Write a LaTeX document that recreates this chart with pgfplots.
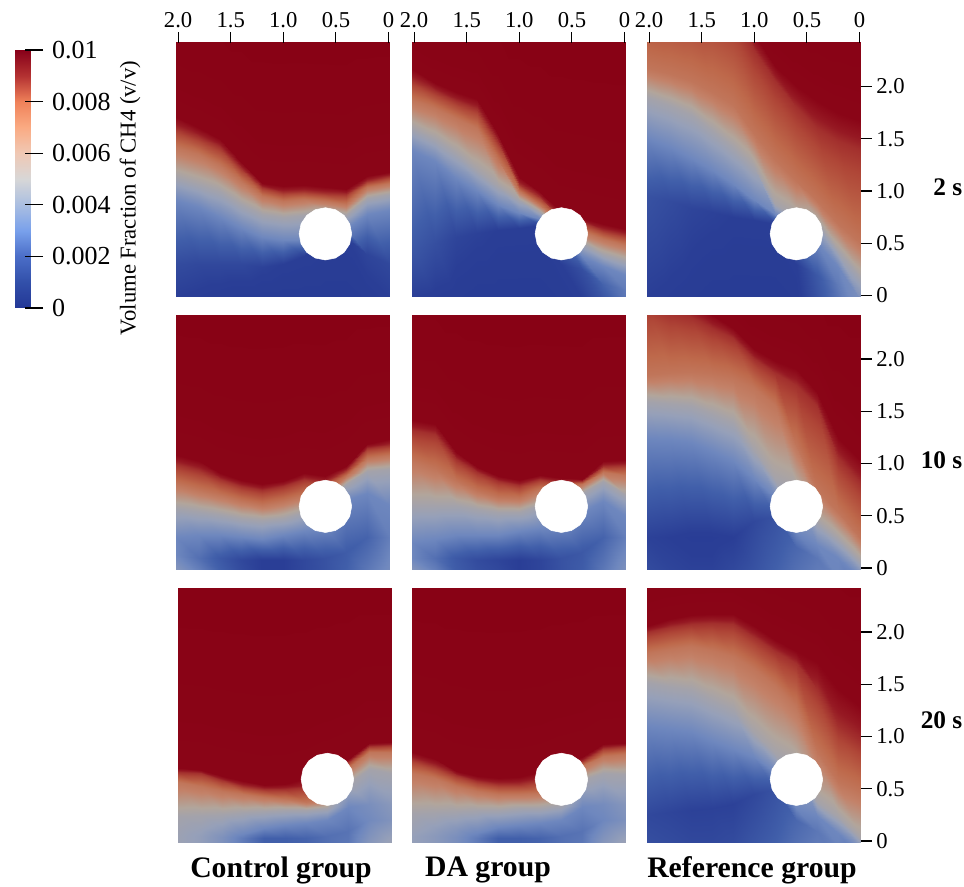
\documentclass[border=0pt]{standalone}
\usepackage{pgfplots}
\usepackage{pgfplotstable}
\usepackage{fontspec}
\setmainfont{Liberation Serif}
\pgfplotsset{compat=1.18}
\pgfplotstableread{
x y
0.85 0.59
0.831 0.686
0.777 0.767
0.696 0.821
0.6 0.84
0.504 0.821
0.423 0.767
0.369 0.686
0.35 0.59
0.369 0.494
0.423 0.413
0.504 0.359
0.6 0.34
0.696 0.359
0.777 0.413
0.831 0.494
}\hole
\pgfplotsset{panel/.style={
  scale only axis, width=160.5pt, height=190.5pt,
  x dir=reverse, xmin=-0.014, xmax=2.02, ymin=-0.014, ymax=2.416,
  axis line style={draw=none}, tick align=outside, major tick length=8pt,
  tick style={black,line width=0.8pt},
  xtick=\empty, ytick=\empty,
  tick label style={font=\fontsize{17}{17}\selectfont},
  point meta min=0, point meta max=10,
  colormap={pan}{rgb255=(35,55,145) rgb255=(42,62,150) rgb255=(65,95,170) rgb255=(110,135,190) rgb255=(150,160,185) rgb255=(178,165,155) rgb255=(195,130,105) rgb255=(190,105,75) rgb255=(175,70,55) rgb255=(150,25,35) rgb255=(135,0,20)},
  clip=true, axis on top=true},
 topt/.style={xtick={0,0.5,1,1.5,2}, xticklabels={0,0.5,1.0,1.5,2.0}, xtick pos=top, xticklabel pos=upper},
 rightt/.style={ytick={0,0.5,1,1.5,2}, yticklabels={0,0.5,1.0,1.5,2.0}, ytick pos=right, yticklabel pos=right}
}
\newcommand\panel[4]{%
\begin{axis}[panel,at={({#1*0.75pt},{#2*0.75pt})},anchor=south west,#3]
\addplot[surf,shader=interp,mesh/cols=8,point meta=explicit] coordinates {#4};
\addplot[fill=white,draw=white,no marks,forget plot] table {\hole} -- cycle;
\end{axis}}
\begin{document}
\begin{tikzpicture}[x=0.75pt,y=0.75pt]
\path[use as bounding box] (0,0) rectangle (964,887);
% colour bar
\begin{axis}[scale only axis,at={({15*0.75pt},{579*0.75pt})},anchor=south west,width=11.25pt,height=193.5pt,
  xmin=0,xmax=1,ymin=0,ymax=10,xtick=\empty,axis line style={draw=none},
  ytick={0,2,4,6,8,10},yticklabels={0,0.002,0.004,0.006,0.008,0.01},ytick pos=right,yticklabel pos=right,
  tick align=outside,major tick length=13.5pt,tick style={black,line width=0.8pt,xshift=-3.75pt},
  yticklabel style={font=\fontsize{19.5}{19.5}\selectfont,xshift=-0.5pt},
  point meta min=0,point meta max=10,axis on top=true,
  colormap={cb}{rgb255=(35,55,150) rgb255=(50,80,170) rgb255=(75,110,200) rgb255=(120,160,235) rgb255=(170,190,225) rgb255=(215,215,215) rgb255=(240,200,180) rgb255=(250,170,130) rgb255=(240,130,90) rgb255=(180,50,50) rgb255=(135,0,25)}]
\addplot[surf,shader=interp,mesh/cols=2,point meta=explicit] coordinates {(0,0)[0] (1,0)[0] (0,1)[1] (1,1)[1] (0,2)[2] (1,2)[2] (0,3)[3] (1,3)[3] (0,4)[4] (1,4)[4] (0,5)[5] (1,5)[5] (0,6)[6] (1,6)[6] (0,7)[7] (1,7)[7] (0,8)[8] (1,8)[8] (0,9)[9] (1,9)[9] (0,10)[10] (1,10)[10]};
\end{axis}
% P1 control 2 s
\panel{176}{590}{topt}{
(2.02,-0.02)[1.0] (2.02,0.3)[1.4] (2.02,0.91)[3] (2.02,1.13)[4.5] (2.02,1.42)[6.5] (2.02,1.6)[8.5] (2.02,1.71)[9.8] (2.02,3.4)[10]
(1.8,-0.02)[0.9] (1.8,0.3)[1.3] (1.8,0.85)[3] (1.8,1.07)[4.5] (1.8,1.35)[6.5] (1.8,1.52)[8.5] (1.8,1.6)[9.8] (1.8,3.4)[10]
(1.6,-0.02)[0.8] (1.6,0.3)[1.3] (1.6,0.75)[3] (1.6,1.0)[4.5] (1.6,1.25)[6.5] (1.6,1.42)[8.5] (1.6,1.5)[9.8] (1.6,3.4)[10]
(1.4,-0.02)[0.7] (1.4,0.3)[1.3] (1.4,0.65)[3] (1.4,0.88)[4.5] (1.4,1.1)[6.5] (1.4,1.22)[8.5] (1.4,1.28)[9.8] (1.4,3.4)[10]
(1.2,-0.02)[0.7] (1.2,0.27)[1.1] (1.2,0.56)[3] (1.2,0.78)[4.5] (1.2,0.95)[6.5] (1.2,1.04)[8.5] (1.2,1.08)[9.8] (1.2,3.4)[10]
(1.0,-0.02)[0.7] (1.0,0.3)[1] (1.0,0.53)[3] (1.0,0.75)[4.5] (1.0,0.9)[6.5] (1.0,0.99)[8.5] (1.0,1.05)[9.8] (1.0,3.4)[10]
(0.8,-0.02)[0.7] (0.8,0.38)[1] (0.8,0.53)[3] (0.8,0.77)[4.5] (0.8,0.92)[6.5] (0.8,1.0)[8.5] (0.8,1.06)[9.8] (0.8,3.4)[10]
(0.6,-0.02)[0.7] (0.6,0.55)[1] (0.6,0.6)[3] (0.6,0.8)[4.5] (0.6,0.9)[6.5] (0.6,0.98)[8.5] (0.6,1.04)[9.8] (0.6,3.4)[10]
(0.4,-0.02)[0.7] (0.4,0.55)[1] (0.4,0.65)[3] (0.4,0.77)[4.5] (0.4,0.88)[6.5] (0.4,0.97)[8.5] (0.4,1.02)[9.8] (0.4,3.4)[10]
(0.2,-0.02)[0.8] (0.2,0.4)[1.2] (0.2,0.78)[3] (0.2,0.93)[4.5] (0.2,1.04)[6.5] (0.2,1.1)[8.5] (0.2,1.14)[9.8] (0.2,3.4)[10]
(-0.01,-0.02)[1.0] (-0.01,0.3)[1.3] (-0.01,0.82)[3] (-0.01,0.97)[4.5] (-0.01,1.08)[6.5] (-0.01,1.14)[8.5] (-0.01,1.18)[9.8] (-0.01,3.4)[10]
}
% P2 DA 2 s
\panel{412}{590}{topt}{
(2.02,-0.02)[1.0] (2.02,0.46)[1.8] (2.02,1.39)[3] (2.02,1.6)[4.5] (2.02,1.87)[6.5] (2.02,2.06)[8.5] (2.02,2.17)[9.8] (2.02,3.4)[10]
(1.8,-0.02)[0.9] (1.8,0.5)[1.5] (1.8,1.29)[3] (1.8,1.5)[4.5] (1.8,1.79)[6.5] (1.8,1.96)[8.5] (1.8,2.03)[9.8] (1.8,3.4)[10]
(1.6,-0.02)[0.8] (1.6,0.56)[1.2] (1.6,1.12)[3] (1.6,1.36)[4.5] (1.6,1.7)[6.5] (1.6,1.86)[8.5] (1.6,1.95)[9.8] (1.6,3.4)[10]
(1.4,-0.02)[0.7] (1.4,0.6)[1.1] (1.4,1.0)[3] (1.4,1.2)[4.5] (1.4,1.6)[6.5] (1.4,1.78)[8.5] (1.4,1.88)[9.8] (1.4,3.4)[10]
(1.2,-0.02)[0.7] (1.2,0.63)[1] (1.2,0.87)[3] (1.2,1.05)[4.5] (1.2,1.3)[6.5] (1.2,1.47)[8.5] (1.2,1.55)[9.8] (1.2,3.4)[10]
(1.0,-0.02)[0.7] (1.0,0.65)[1] (1.0,0.79)[3] (1.0,0.91)[4.5] (1.0,1.0)[6.5] (1.0,1.07)[8.5] (1.0,1.13)[9.8] (1.0,3.4)[10]
(0.8,-0.02)[0.7] (0.8,0.67)[1] (0.8,0.73)[3] (0.8,0.8)[4.5] (0.8,0.87)[6.5] (0.8,0.94)[8.5] (0.8,0.99)[9.8] (0.8,3.4)[10]
(0.6,-0.02)[0.8] (0.6,0.3)[1] (0.6,0.62)[3] (0.6,0.65)[4.5] (0.6,0.7)[6.5] (0.6,0.75)[8.5] (0.6,0.8)[9.8] (0.6,3.4)[10]
(0.4,-0.02)[1.0] (0.4,0.25)[1.5] (0.4,0.38)[3] (0.4,0.5)[4.5] (0.4,0.62)[6.5] (0.4,0.7)[8.5] (0.4,0.74)[9.8] (0.4,3.4)[10]
(0.2,-0.02)[1.7] (0.2,0.11)[2.1] (0.2,0.28)[3] (0.2,0.4)[4.5] (0.2,0.54)[6.5] (0.2,0.63)[8.5] (0.2,0.68)[9.8] (0.2,3.4)[10]
(-0.01,-0.02)[2.6] (-0.01,0.05)[2.7] (-0.01,0.2)[3] (-0.01,0.33)[4.5] (-0.01,0.48)[6.5] (-0.01,0.58)[8.5] (-0.01,0.64)[9.8] (-0.01,3.4)[10]
}
% P3 reference 2 s
\panel{647}{590}{topt,rightt}{
(2.02,-0.02)[1.0] (2.02,0.95)[1.6] (2.02,1.51)[3] (2.02,1.9)[4.5] (2.02,2.18)[6.5] (2.02,2.9)[8.5] (2.02,3.2)[9.8] (2.02,3.4)[10]
(1.8,-0.02)[0.9] (1.8,0.9)[1.4] (1.8,1.42)[3] (1.8,1.82)[4.5] (1.8,2.12)[6.5] (1.8,2.88)[8.5] (1.8,3.15)[9.8] (1.8,3.4)[10]
(1.6,-0.02)[0.8] (1.6,0.84)[1.2] (1.6,1.32)[3] (1.6,1.74)[4.5] (1.6,2.05)[6.5] (1.6,2.86)[8.5] (1.6,3.12)[9.8] (1.6,3.4)[10]
(1.4,-0.02)[0.7] (1.4,0.8)[1.1] (1.4,1.2)[3] (1.4,1.58)[4.5] (1.4,1.95)[6.5] (1.4,2.85)[8.5] (1.4,3.1)[9.8] (1.4,3.4)[10]
(1.2,-0.02)[0.7] (1.2,0.75)[1] (1.2,1.07)[3] (1.2,1.42)[4.5] (1.2,1.82)[6.5] (1.2,2.7)[8.5] (1.2,2.95)[9.8] (1.2,3.4)[10]
(1.0,-0.02)[0.7] (1.0,0.72)[1] (1.0,0.91)[3] (1.0,1.23)[4.5] (1.0,1.55)[6.5] (1.0,2.35)[8.5] (1.0,2.5)[9.8] (1.0,3.4)[10]
(0.8,-0.02)[0.7] (0.8,0.68)[1] (0.8,0.78)[3] (0.8,0.88)[4.5] (0.8,1.3)[6.5] (0.8,2.05)[8.5] (0.8,2.2)[9.8] (0.8,3.4)[10]
(0.6,-0.02)[0.8] (0.6,0.3)[1] (0.6,0.65)[3] (0.6,0.75)[4.5] (0.6,1.1)[6.5] (0.6,1.8)[8.5] (0.6,2.0)[9.8] (0.6,3.4)[10]
(0.4,-0.02)[1.6] (0.4,0.2)[1.8] (0.4,0.5)[3] (0.4,0.7)[4.5] (0.4,0.9)[6.5] (0.4,1.6)[8.5] (0.4,1.86)[9.8] (0.4,3.4)[10]
(0.2,-0.02)[2.5] (0.2,0.1)[2.7] (0.2,0.27)[3] (0.2,0.43)[4.5] (0.2,0.68)[6.5] (0.2,1.48)[8.5] (0.2,1.75)[9.8] (0.2,3.4)[10]
(-0.01,-0.4)[3.1] (-0.01,-0.3)[3.1] (-0.01,-0.05)[3.3] (-0.01,0.17)[4.5] (-0.01,0.49)[6.5] (-0.01,1.39)[8.5] (-0.01,1.67)[9.8] (-0.01,3.4)[10]
}
% P4 control 10 s
\panel{176}{317.5}{}{
(2.02,-0.02)[3.6] (2.02,0.12)[3.0] (2.02,0.3)[3] (2.02,0.57)[4.5] (2.02,0.8)[6.5] (2.02,1.0)[8.5] (2.02,1.08)[9.8] (2.02,3.4)[10]
(1.8,-0.02)[2.8] (1.8,0.1)[2.4] (1.8,0.32)[3] (1.8,0.55)[4.5] (1.8,0.75)[6.5] (1.8,0.94)[8.5] (1.8,1.02)[9.8] (1.8,3.4)[10]
(1.6,-0.02)[2.0] (1.6,0.1)[1.8] (1.6,0.32)[3] (1.6,0.52)[4.5] (1.6,0.7)[6.5] (1.6,0.85)[8.5] (1.6,0.91)[9.8] (1.6,3.4)[10]
(1.4,-0.02)[1.4] (1.4,0.08)[1.3] (1.4,0.3)[3] (1.4,0.48)[4.5] (1.4,0.64)[6.5] (1.4,0.78)[8.5] (1.4,0.84)[9.8] (1.4,3.4)[10]
(1.2,-0.02)[1.0] (1.2,0.08)[1.0] (1.2,0.28)[3] (1.2,0.46)[4.5] (1.2,0.6)[6.5] (1.2,0.75)[8.5] (1.2,0.8)[9.8] (1.2,3.4)[10]
(1.0,-0.02)[1.0] (1.0,0.08)[1.0] (1.0,0.32)[3] (1.0,0.48)[4.5] (1.0,0.64)[6.5] (1.0,0.78)[8.5] (1.0,0.83)[9.8] (1.0,3.4)[10]
(0.8,-0.02)[1.3] (0.8,0.08)[1.3] (0.8,0.35)[3] (0.8,0.54)[4.5] (0.8,0.7)[6.5] (0.8,0.85)[8.5] (0.8,0.91)[9.8] (0.8,3.4)[10]
(0.6,-0.02)[1.6] (0.6,0.1)[1.6] (0.6,0.38)[3] (0.6,0.6)[4.5] (0.6,0.72)[6.5] (0.6,0.82)[8.5] (0.6,0.88)[9.8] (0.6,3.4)[10]
(0.4,-0.02)[2.0] (0.4,0.15)[1.9] (0.4,0.65)[3] (0.4,0.8)[4.5] (0.4,0.88)[6.5] (0.4,0.94)[8.5] (0.4,0.98)[9.8] (0.4,3.4)[10]
(0.2,-0.02)[2.6] (0.2,0.3)[2.1] (0.2,0.72)[3] (0.2,0.93)[4.5] (0.2,1.05)[6.5] (0.2,1.15)[8.5] (0.2,1.19)[9.8] (0.2,3.4)[10]
(-0.01,-0.02)[3.2] (-0.01,0.3)[2.8] (-0.01,0.6)[3] (-0.01,0.95)[4.5] (-0.01,1.08)[6.5] (-0.01,1.18)[8.5] (-0.01,1.23)[9.8] (-0.01,3.4)[10]
}
% P5 DA 10 s
\panel{412}{317.5}{}{
(2.02,-0.02)[3.6] (2.02,0.1)[3.0] (2.02,0.25)[3] (2.02,0.6)[4.5] (2.02,1.02)[6.5] (2.02,1.32)[8.5] (2.02,1.42)[9.8] (2.02,3.4)[10]
(1.8,-0.02)[2.8] (1.8,0.1)[2.4] (1.8,0.28)[3] (1.8,0.6)[4.5] (1.8,0.95)[6.5] (1.8,1.28)[8.5] (1.8,1.38)[9.8] (1.8,3.4)[10]
(1.6,-0.02)[1.9] (1.6,0.1)[1.8] (1.6,0.32)[3] (1.6,0.6)[4.5] (1.6,0.83)[6.5] (1.6,1.04)[8.5] (1.6,1.11)[9.8] (1.6,3.4)[10]
(1.4,-0.02)[1.5] (1.4,0.08)[1.4] (1.4,0.32)[3] (1.4,0.56)[4.5] (1.4,0.74)[6.5] (1.4,0.92)[8.5] (1.4,0.97)[9.8] (1.4,3.4)[10]
(1.2,-0.02)[1.3] (1.2,0.08)[1.2] (1.2,0.32)[3] (1.2,0.54)[4.5] (1.2,0.68)[6.5] (1.2,0.83)[8.5] (1.2,0.88)[9.8] (1.2,3.4)[10]
(1.0,-0.02)[1.0] (1.0,0.08)[1.0] (1.0,0.35)[3] (1.0,0.54)[4.5] (1.0,0.67)[6.5] (1.0,0.79)[8.5] (1.0,0.84)[9.8] (1.0,3.4)[10]
(0.8,-0.02)[1.2] (0.8,0.08)[1.2] (0.8,0.38)[3] (0.8,0.6)[4.5] (0.8,0.76)[6.5] (0.8,0.85)[8.5] (0.8,0.89)[9.8] (0.8,3.4)[10]
(0.6,-0.02)[1.6] (0.6,0.1)[1.6] (0.6,0.4)[3] (0.6,0.6)[4.5] (0.6,0.75)[6.5] (0.6,0.82)[8.5] (0.6,0.86)[9.8] (0.6,3.4)[10]
(0.4,-0.02)[1.9] (0.4,0.15)[1.8] (0.4,0.54)[3] (0.4,0.72)[4.5] (0.4,0.8)[6.5] (0.4,0.83)[8.5] (0.4,0.85)[9.8] (0.4,3.4)[10]
(0.2,-0.02)[2.6] (0.2,0.3)[2.1] (0.2,0.64)[3] (0.2,0.83)[4.5] (0.2,0.92)[6.5] (0.2,0.98)[8.5] (0.2,1.02)[9.8] (0.2,3.4)[10]
(-0.01,-0.02)[3.4] (-0.01,0.3)[2.8] (-0.01,0.5)[3] (-0.01,0.7)[4.5] (-0.01,0.89)[6.5] (-0.01,0.99)[8.5] (-0.01,1.03)[9.8] (-0.01,3.4)[10]
}
% P6 reference 10 s
\panel{647}{317.5}{rightt}{
(2.02,-0.02)[1.4] (2.02,0.3)[1.1] (2.02,1.24)[3] (2.02,1.6)[4.5] (2.02,1.85)[6.5] (2.02,2.55)[8.5] (2.02,2.8)[9.8] (2.02,3.4)[10]
(1.8,-0.02)[1.2] (1.8,0.3)[1.0] (1.8,1.23)[3] (1.8,1.58)[4.5] (1.8,1.87)[6.5] (1.8,2.45)[8.5] (1.8,2.7)[9.8] (1.8,3.4)[10]
(1.6,-0.02)[1.1] (1.6,0.3)[0.9] (1.6,1.21)[3] (1.6,1.56)[4.5] (1.6,1.88)[6.5] (1.6,2.4)[8.5] (1.6,2.55)[9.8] (1.6,3.4)[10]
(1.4,-0.02)[1.1] (1.4,0.3)[0.9] (1.4,1.12)[3] (1.4,1.48)[4.5] (1.4,1.86)[6.5] (1.4,2.3)[8.5] (1.4,2.42)[9.8] (1.4,3.4)[10]
(1.2,-0.02)[1.3] (1.2,0.3)[1.0] (1.2,1.02)[3] (1.2,1.4)[4.5] (1.2,1.82)[6.5] (1.2,2.2)[8.5] (1.2,2.3)[9.8] (1.2,3.4)[10]
(1.0,-0.02)[1.6] (1.0,0.45)[1.3] (1.0,0.85)[3] (1.0,1.13)[4.5] (1.0,1.72)[6.5] (1.0,2.0)[8.5] (1.0,2.1)[9.8] (1.0,3.4)[10]
(0.8,-0.02)[2.0] (0.8,0.5)[1.6] (0.8,0.68)[3] (0.8,0.85)[4.5] (0.8,1.56)[6.5] (0.8,1.87)[8.5] (0.8,1.98)[9.8] (0.8,3.4)[10]
(0.6,-0.02)[2.4] (0.6,0.2)[2.2] (0.6,0.35)[3] (0.6,0.75)[4.5] (0.6,1.18)[6.5] (0.6,1.75)[8.5] (0.6,1.9)[9.8] (0.6,3.4)[10]
(0.4,-0.02)[2.7] (0.4,0.1)[2.6] (0.4,0.22)[3] (0.4,0.44)[4.5] (0.4,0.75)[6.5] (0.4,1.55)[8.5] (0.4,1.68)[9.8] (0.4,3.4)[10]
(0.2,-0.2)[2.9] (0.2,-0.1)[2.95] (0.2,0.1)[3] (0.2,0.28)[4.5] (0.2,0.54)[6.5] (0.2,1.05)[8.5] (0.2,1.24)[9.8] (0.2,3.4)[10]
(-0.01,-0.4)[2.0] (-0.01,-0.3)[2.5] (-0.01,-0.1)[3] (-0.01,0.06)[4.5] (-0.01,0.28)[6.5] (-0.01,0.8)[8.5] (-0.01,1.02)[9.8] (-0.01,3.4)[10]
}
% P7 control 20 s
\panel{178}{44.5}{}{
(2.02,-0.02)[4.2] (2.02,0.05)[4.2] (2.02,0.12)[4.3] (2.02,0.24)[4.5] (2.02,0.56)[6.5] (2.02,0.66)[8.5] (2.02,0.7)[9.8] (2.02,3.4)[10]
(1.8,-0.02)[3.9] (1.8,0.05)[3.9] (1.8,0.12)[4.1] (1.8,0.25)[4.5] (1.8,0.53)[6.5] (1.8,0.65)[8.5] (1.8,0.68)[9.8] (1.8,3.4)[10]
(1.6,-0.02)[3.4] (1.6,0.04)[3.4] (1.6,0.12)[3.8] (1.6,0.26)[4.5] (1.6,0.48)[6.5] (1.6,0.58)[8.5] (1.6,0.62)[9.8] (1.6,3.4)[10]
(1.4,-0.02)[2.7] (1.4,0.03)[2.7] (1.4,0.07)[3] (1.4,0.28)[4.5] (1.4,0.45)[6.5] (1.4,0.53)[8.5] (1.4,0.57)[9.8] (1.4,3.4)[10]
(1.2,-0.02)[2.0] (1.2,0.03)[2.0] (1.2,0.12)[3] (1.2,0.29)[4.5] (1.2,0.42)[6.5] (1.2,0.5)[8.5] (1.2,0.54)[9.8] (1.2,3.4)[10]
(1.0,-0.02)[2.0] (1.0,0.03)[2.0] (1.0,0.15)[3] (1.0,0.3)[4.5] (1.0,0.4)[6.5] (1.0,0.5)[8.5] (1.0,0.55)[9.8] (1.0,3.4)[10]
(0.8,-0.02)[2.1] (0.8,0.03)[2.1] (0.8,0.17)[3] (0.8,0.3)[4.5] (0.8,0.37)[6.5] (0.8,0.52)[8.5] (0.8,0.6)[9.8] (0.8,3.4)[10]
(0.6,-0.02)[2.4] (0.6,0.05)[2.4] (0.6,0.2)[3] (0.6,0.32)[4.5] (0.6,0.4)[6.5] (0.6,0.6)[8.5] (0.6,0.7)[9.8] (0.6,3.4)[10]
(0.4,-0.02)[2.6] (0.4,0.1)[2.5] (0.4,0.33)[3] (0.4,0.55)[4.5] (0.4,0.7)[6.5] (0.4,0.76)[8.5] (0.4,0.78)[9.8] (0.4,3.4)[10]
(0.2,-0.02)[3.6] (0.2,0.2)[3.1] (0.2,0.35)[3.3] (0.2,0.69)[4.5] (0.2,0.85)[6.5] (0.2,0.91)[8.5] (0.2,0.94)[9.8] (0.2,3.4)[10]
(-0.01,-0.02)[4.2] (-0.01,0.2)[3.5] (-0.01,0.35)[3.7] (-0.01,0.65)[4.5] (-0.01,0.85)[6.5] (-0.01,0.92)[8.5] (-0.01,0.95)[9.8] (-0.01,3.4)[10]
}
% P8 DA 20 s
\panel{412}{44.5}{}{
(2.02,-0.02)[4.0] (2.02,0.05)[4.0] (2.02,0.12)[4.2] (2.02,0.27)[4.5] (2.02,0.65)[6.5] (2.02,0.78)[8.5] (2.02,0.85)[9.8] (2.02,3.4)[10]
(1.8,-0.02)[3.7] (1.8,0.05)[3.7] (1.8,0.12)[3.9] (1.8,0.28)[4.5] (1.8,0.6)[6.5] (1.8,0.72)[8.5] (1.8,0.78)[9.8] (1.8,3.4)[10]
(1.6,-0.02)[3.3] (1.6,0.04)[3.3] (1.6,0.12)[3.6] (1.6,0.29)[4.5] (1.6,0.53)[6.5] (1.6,0.63)[8.5] (1.6,0.67)[9.8] (1.6,3.4)[10]
(1.4,-0.02)[2.7] (1.4,0.03)[2.7] (1.4,0.08)[3] (1.4,0.3)[4.5] (1.4,0.48)[6.5] (1.4,0.57)[8.5] (1.4,0.62)[9.8] (1.4,3.4)[10]
(1.2,-0.02)[2.0] (1.2,0.03)[2.0] (1.2,0.13)[3] (1.2,0.3)[4.5] (1.2,0.45)[6.5] (1.2,0.55)[8.5] (1.2,0.6)[9.8] (1.2,3.4)[10]
(1.0,-0.02)[2.0] (1.0,0.03)[2.0] (1.0,0.15)[3] (1.0,0.32)[4.5] (1.0,0.45)[6.5] (1.0,0.55)[8.5] (1.0,0.61)[9.8] (1.0,3.4)[10]
(0.8,-0.02)[2.1] (0.8,0.03)[2.1] (0.8,0.17)[3] (0.8,0.32)[4.5] (0.8,0.46)[6.5] (0.8,0.58)[8.5] (0.8,0.66)[9.8] (0.8,3.4)[10]
(0.6,-0.02)[2.4] (0.6,0.05)[2.4] (0.6,0.2)[3] (0.6,0.34)[4.5] (0.6,0.5)[6.5] (0.6,0.65)[8.5] (0.6,0.75)[9.8] (0.6,3.4)[10]
(0.4,-0.02)[2.6] (0.4,0.1)[2.5] (0.4,0.33)[3] (0.4,0.58)[4.5] (0.4,0.72)[6.5] (0.4,0.77)[8.5] (0.4,0.8)[9.8] (0.4,3.4)[10]
(0.2,-0.02)[3.6] (0.2,0.2)[3.0] (0.2,0.35)[3.2] (0.2,0.65)[4.5] (0.2,0.81)[6.5] (0.2,0.89)[8.5] (0.2,0.93)[9.8] (0.2,3.4)[10]
(-0.01,-0.02)[4.2] (-0.01,0.2)[3.4] (-0.01,0.35)[3.6] (-0.01,0.64)[4.5] (-0.01,0.83)[6.5] (-0.01,0.91)[8.5] (-0.01,0.94)[9.8] (-0.01,3.4)[10]
}
% P9 reference 20 s
\panel{647}{44.5}{rightt}{
(2.02,-0.02)[1.5] (2.02,0.25)[1.3] (2.02,1.1)[3] (2.02,1.52)[4.5] (2.02,1.8)[6.5] (2.02,2.0)[8.5] (2.02,2.06)[9.8] (2.02,3.4)[10]
(1.8,-0.02)[1.4] (1.8,0.28)[1.2] (1.8,1.07)[3] (1.8,1.48)[4.5] (1.8,1.84)[6.5] (1.8,2.05)[8.5] (1.8,2.12)[9.8] (1.8,3.4)[10]
(1.6,-0.02)[1.3] (1.6,0.3)[1.1] (1.6,1.04)[3] (1.6,1.45)[4.5] (1.6,1.87)[6.5] (1.6,2.08)[8.5] (1.6,2.16)[9.8] (1.6,3.4)[10]
(1.4,-0.02)[1.3] (1.4,0.32)[1.1] (1.4,0.96)[3] (1.4,1.36)[4.5] (1.4,1.83)[6.5] (1.4,2.09)[8.5] (1.4,2.17)[9.8] (1.4,3.4)[10]
(1.2,-0.02)[1.4] (1.2,0.35)[1.1] (1.2,0.88)[3] (1.2,1.26)[4.5] (1.2,1.77)[6.5] (1.2,2.08)[8.5] (1.2,2.17)[9.8] (1.2,3.4)[10]
(1.0,-0.02)[1.7] (1.0,0.45)[1.3] (1.0,0.8)[3] (1.0,1.03)[4.5] (1.0,1.65)[6.5] (1.0,1.95)[8.5] (1.0,2.06)[9.8] (1.0,3.4)[10]
(0.8,-0.02)[2.0] (0.8,0.5)[1.6] (0.8,0.66)[3] (0.8,0.84)[4.5] (0.8,1.49)[6.5] (0.8,1.82)[8.5] (0.8,1.92)[9.8] (0.8,3.4)[10]
(0.6,-0.02)[2.4] (0.6,0.2)[2.2] (0.6,0.32)[3] (0.6,0.72)[4.5] (0.6,1.29)[6.5] (0.6,1.7)[8.5] (0.6,1.82)[9.8] (0.6,3.4)[10]
(0.4,-0.02)[2.7] (0.4,0.1)[2.6] (0.4,0.24)[3] (0.4,0.37)[4.5] (0.4,0.85)[6.5] (0.4,1.45)[8.5] (0.4,1.71)[9.8] (0.4,3.4)[10]
(0.2,-0.2)[2.8] (0.2,-0.05)[2.9] (0.2,0.08)[3] (0.2,0.23)[4.5] (0.2,0.56)[6.5] (0.2,1.1)[8.5] (0.2,1.45)[9.8] (0.2,3.4)[10]
(-0.01,-0.3)[2.0] (-0.01,-0.2)[2.5] (-0.01,-0.1)[3] (-0.01,0.02)[4.5] (-0.01,0.46)[6.5] (-0.01,0.95)[8.5] (-0.01,1.28)[9.8] (-0.01,3.4)[10]
}
% labels
\node[rotate=90,font=\fontsize{17}{17}\selectfont] at (130,689) {Volume Fraction of CH4 (v/v)};
\node[font=\fontsize{19}{19}\selectfont\bfseries,anchor=east] at (967,700) {2 s};
\node[font=\fontsize{19}{19}\selectfont\bfseries,anchor=east] at (967,427) {10 s};
\node[font=\fontsize{19}{19}\selectfont\bfseries,anchor=east] at (967,167) {20 s};
\node[font=\fontsize{22.3}{22.3}\selectfont\bfseries] at (281,17) {Control group};
\node[font=\fontsize{22.3}{22.3}\selectfont\bfseries] at (488,17) {DA group};
\node[font=\fontsize{22.3}{22.3}\selectfont\bfseries] at (752,17) {Reference group};
\end{tikzpicture}
\end{document}
